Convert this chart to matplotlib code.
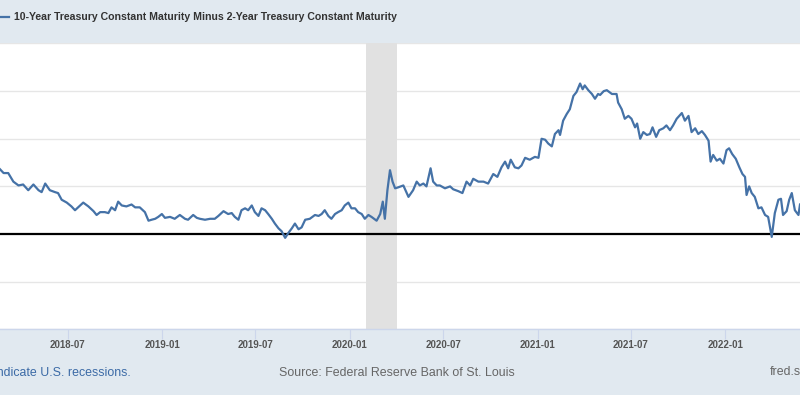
import numpy as np
import matplotlib
matplotlib.use('Agg')
import matplotlib.pyplot as plt
import matplotlib.dates as mdates
from matplotlib.lines import Line2D

plt.rcParams['font.family'] = ['Liberation Sans', 'DejaVu Sans']

series_name = "10-Year Treasury Constant Maturity Minus 2-Year Treasury Constant Maturity"

# T10Y2Y, percent
dates = [
    "2018-02-19", "2018-02-26", "2018-03-07", "2018-03-17", "2018-03-27", "2018-04-05",
    "2018-04-15", "2018-04-25", "2018-05-05", "2018-05-11", "2018-05-18", "2018-05-27",
    "2018-06-06", "2018-06-12", "2018-06-19", "2018-06-29", "2018-07-08", "2018-07-15",
    "2018-07-25", "2018-07-31", "2018-08-10", "2018-08-20", "2018-08-26", "2018-09-02",
    "2018-09-11", "2018-09-18", "2018-09-24", "2018-10-01", "2018-10-07", "2018-10-14",
    "2018-10-23", "2018-11-02", "2018-11-09", "2018-11-18", "2018-11-28", "2018-12-05",
    "2018-12-11", "2018-12-18", "2018-12-24", "2018-12-31", "2019-01-06", "2019-01-16",
    "2019-01-25", "2019-02-04", "2019-02-14", "2019-02-20", "2019-03-02", "2019-03-09",
    "2019-03-15", "2019-03-25", "2019-04-04", "2019-04-13", "2019-04-20", "2019-04-30",
    "2019-05-09", "2019-05-16", "2019-05-22", "2019-05-29", "2019-06-04", "2019-06-11",
    "2019-06-17", "2019-06-24", "2019-06-30", "2019-07-07", "2019-07-13", "2019-07-20",
    "2019-07-26", "2019-08-02", "2019-08-08", "2019-08-15", "2019-08-21", "2019-08-28",
    "2019-09-03", "2019-09-10", "2019-09-16", "2019-09-23", "2019-09-29", "2019-10-06",
    "2019-10-15", "2019-10-25", "2019-11-01", "2019-11-07", "2019-11-13", "2019-11-20",
    "2019-11-26", "2019-12-03", "2019-12-09", "2019-12-16", "2019-12-22", "2019-12-29",
    "2020-01-04", "2020-01-11", "2020-01-17", "2020-01-24", "2020-01-30", "2020-02-06",
    "2020-02-12", "2020-02-22", "2020-02-29", "2020-03-05", "2020-03-09", "2020-03-14",
    "2020-03-19", "2020-03-24", "2020-03-29", "2020-04-04", "2020-04-14", "2020-04-24",
    "2020-05-03", "2020-05-10", "2020-05-16", "2020-05-23", "2020-05-29", "2020-06-06",
    "2020-06-11", "2020-06-18", "2020-06-24", "2020-07-04", "2020-07-14", "2020-07-20",
    "2020-07-30", "2020-08-07", "2020-08-15", "2020-08-22", "2020-08-28", "2020-09-07",
    "2020-09-17", "2020-09-26", "2020-10-06", "2020-10-14", "2020-10-22", "2020-10-29",
    "2020-11-04", "2020-11-09", "2020-11-17", "2020-11-24", "2020-11-30", "2020-12-07",
    "2020-12-16", "2020-12-26", "2021-01-02", "2021-01-08", "2021-01-15", "2021-01-21",
    "2021-01-28", "2021-02-03", "2021-02-10", "2021-02-13", "2021-02-19", "2021-02-26",
    "2021-03-04", "2021-03-11", "2021-03-17", "2021-03-24", "2021-03-29", "2021-04-02",
    "2021-04-09", "2021-04-16", "2021-04-22", "2021-04-28", "2021-05-02", "2021-05-09",
    "2021-05-15", "2021-05-25", "2021-06-03", "2021-06-06", "2021-06-13", "2021-06-19",
    "2021-06-26", "2021-07-02", "2021-07-09", "2021-07-13", "2021-07-19", "2021-07-25",
    "2021-08-01", "2021-08-07", "2021-08-12", "2021-08-19", "2021-08-25", "2021-09-02",
    "2021-09-08", "2021-09-15", "2021-09-21", "2021-09-28", "2021-10-08", "2021-10-14",
    "2021-10-21", "2021-10-27", "2021-11-03", "2021-11-09", "2021-11-16", "2021-11-22",
    "2021-11-29", "2021-12-03", "2021-12-08", "2021-12-15", "2021-12-21", "2021-12-28",
    "2022-01-03", "2022-01-08", "2022-01-14", "2022-01-21", "2022-01-28", "2022-02-03",
    "2022-02-08", "2022-02-11", "2022-02-16", "2022-02-21", "2022-02-27", "2022-03-06",
    "2022-03-12", "2022-03-19", "2022-03-25", "2022-04-01", "2022-04-07", "2022-04-14",
    "2022-04-19", "2022-04-23", "2022-04-30", "2022-05-05", "2022-05-10", "2022-05-16",
    "2022-05-23", "2022-05-26",
]
spread = [
    0.68, 0.64, 0.64, 0.55, 0.51, 0.52,
    0.46, 0.52, 0.46, 0.44, 0.53, 0.46,
    0.44, 0.43, 0.36, 0.33, 0.29, 0.25,
    0.30, 0.33, 0.29, 0.24, 0.20, 0.23,
    0.23, 0.22, 0.28, 0.25, 0.34, 0.30,
    0.29, 0.31, 0.28, 0.28, 0.23, 0.14,
    0.15, 0.16, 0.18, 0.21, 0.17, 0.18,
    0.16, 0.20, 0.16, 0.15, 0.20, 0.17,
    0.16, 0.15, 0.16, 0.16, 0.19, 0.24,
    0.21, 0.22, 0.18, 0.15, 0.25, 0.27,
    0.25, 0.30, 0.23, 0.19, 0.27, 0.25,
    0.21, 0.16, 0.11, 0.06, 0.03, -0.04,
    0.01, 0.06, 0.11, 0.05, 0.07, 0.15,
    0.16, 0.20, 0.19, 0.21, 0.25, 0.19,
    0.16, 0.21, 0.23, 0.25, 0.30, 0.33,
    0.27, 0.27, 0.23, 0.21, 0.16, 0.20,
    0.18, 0.14, 0.21, 0.34, 0.16, 0.46,
    0.67, 0.55, 0.48, 0.49, 0.51, 0.39,
    0.46, 0.55, 0.51, 0.53, 0.50, 0.69,
    0.55, 0.51, 0.51, 0.48, 0.50, 0.47,
    0.45, 0.43, 0.55, 0.51, 0.58, 0.55,
    0.55, 0.53, 0.63, 0.60, 0.70, 0.76,
    0.69, 0.78, 0.70, 0.69, 0.72, 0.80,
    0.78, 0.81, 0.80, 1.00, 0.99, 0.95,
    0.92, 1.05, 1.09, 1.04, 1.19, 1.26,
    1.31, 1.45, 1.49, 1.58, 1.52, 1.56,
    1.51, 1.47, 1.42, 1.47, 1.46, 1.50,
    1.51, 1.47, 1.47, 1.38, 1.31, 1.21,
    1.24, 1.21, 1.12, 1.16, 1.00, 1.07,
    1.04, 1.05, 1.12, 1.02, 1.09, 1.11,
    1.14, 1.09, 1.14, 1.21, 1.27, 1.19,
    1.24, 1.07, 1.11, 1.05, 1.08, 1.04,
    0.98, 0.76, 0.83, 0.77, 0.79, 0.74,
    0.88, 0.90, 0.84, 0.79, 0.70, 0.63,
    0.60, 0.41, 0.50, 0.43, 0.39, 0.27,
    0.28, 0.20, 0.18, -0.03, 0.22, 0.36,
    0.37, 0.20, 0.24, 0.36, 0.43, 0.25,
    0.20, 0.31,
]
tick_dates = ["2018-07-01", "2019-01-01", "2019-07-01", "2020-01-01",
              "2020-07-01", "2021-01-01", "2021-07-01", "2022-01-01"]
recession = ("2020-02-01", "2020-04-01")
x_range = ("2018-02-19", "2022-05-26")

d = np.array(dates, dtype="datetime64[D]")
v = np.array(spread)

fig = plt.figure(figsize=(8, 3.95), dpi=100)
fig.patch.set_facecolor("#e1e9f0")
ax = fig.add_axes([0, 65.7 / 395, 1, 285.8 / 395])
ax.set_facecolor("white")

ax.axvspan(np.datetime64(recession[0]), np.datetime64(recession[1]),
           color="#e1e1e1", lw=0, zorder=1)
ax.axhline(0, color="black", lw=1.6, zorder=2)
ax.plot(d, v, color="#4572a7", lw=1.6, zorder=3)

ax.set_xlim(np.datetime64(x_range[0]), np.datetime64(x_range[1]))
ax.set_ylim(-1, 2)
ax.set_yticks([-1, -0.5, 0.5, 1, 1.5, 2])
ax.yaxis.grid(True, color="#e6e6e6", lw=1)
ax.set_axisbelow(True)
ax.tick_params(axis="y", length=0, labelleft=False)

ax.set_xticks(np.array(tick_dates, dtype="datetime64[D]"))
ax.xaxis.set_major_formatter(mdates.DateFormatter("%Y-%m"))
ax.tick_params(axis="x", length=7, width=0.8, color="#ccd6eb", pad=0.5,
               labelsize=7, labelcolor="#555555")
for lab in ax.get_xticklabels():
    lab.set_fontweight("bold")

for s in ["top", "left", "right"]:
    ax.spines[s].set_visible(False)
ax.spines["bottom"].set_color("#ccd6eb")
ax.spines["bottom"].set_linewidth(1)

# header legend
yh = 1 - 17 / 395
fig.add_artist(Line2D([0, 9 / 800], [yh, yh], color="#4572a7", lw=1.6))
fig.text(14 / 800, yh, series_name, ha="left", va="center", fontsize=7.6,
         fontweight="bold", color="#333333")

# footer
yf = 1 - 372.5 / 395
fig.text(131 / 800, yf, "Shaded areas indicate U.S. recessions.", ha="right",
         va="center", fontsize=8.9, color="#3b6aa6")
fig.text(279 / 800, yf, "Source: Federal Reserve Bank of St. Louis", ha="left",
         va="center", fontsize=8.9, color="#666666")
fig.text(770 / 800, yf, "fred.stlouisfed.org", ha="left", va="center",
         fontsize=8.9, color="#666666")

fig.savefig("out.png", dpi=100, facecolor=fig.get_facecolor())
